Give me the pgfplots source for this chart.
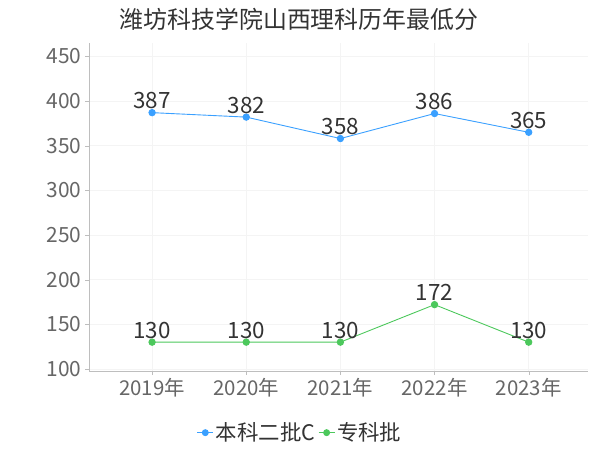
\documentclass[border=0pt]{standalone}
\usepackage{pgfplots}
\pgfplotsset{compat=1.18}
\usepackage{fontspec}
\setmainfont{Noto Sans CJK SC}
\definecolor{cblue}{RGB}{58,160,255}
\definecolor{cgreen}{RGB}{76,200,92}
\definecolor{tickgray}{RGB}{102,102,102}
\definecolor{axgray}{RGB}{190,190,190}
\definecolor{gridgray}{RGB}{244,244,244}
\definecolor{txt}{RGB}{51,51,51}
\begin{document}
\begin{tikzpicture}[x=1bp,y=1bp]
\path[use as bounding box] (0,0) rectangle (600,450);
\node[font=\fontsize{24}{28}\selectfont, text=txt] at (299,431) {潍坊科技学院山西理科历年最低分};
\begin{axis}[
  at={(89bp,79bp)}, anchor=south west,
  scale only axis, width=499bp, height=328bp,
  xmin=-0.67, xmax=4.63, ymin=97.7, ymax=465,
  xtick={0,1,2,3,4},
  xticklabels={2019年,2020年,2021年,2022年,2023年},
  ytick={100,150,200,250,300,350,400,450},
  axis x line*=bottom, axis y line*=left,
  axis line style={axgray, -},
  tick style={axgray},
  tick align=outside,
  major tick length=4bp,
  grid=major,
  major grid style={gridgray, line width=0.6pt},
  tick label style={text=tickgray},
  yticklabel style={font=\fontsize{21}{23}\selectfont},
  xticklabel style={font=\fontsize{20.5}{23}\selectfont},
  /pgf/number format/assume math mode=true,
  /pgf/number format/1000 sep={},
  every node near coord/.append style={font=\fontsize{22.5}{24}\selectfont, text=txt, anchor=south, yshift=0bp},
  nodes near coords,
  legend columns=2,
  legend style={draw=none, fill=none, at={(0.423,-0.188)}, anchor=center,
    font=\fontsize{21.5}{24}\selectfont, text=txt, inner sep=0pt,
    /tikz/every even column/.append style={column sep=1bp}},
  legend image code/.code={
    \draw[#1, line width=1pt] (0bp,0bp) -- (16bp,0bp);
    \fill[#1] (8bp,0bp) circle (3bp);
  },
  clip=false,
]
\addplot[cblue, line width=0.9pt, mark=*, mark size=3.2bp] coordinates {(0,387) (1,382) (2,358) (3,386) (4,365)};
\addlegendentry{本科二批C}
\addplot[cgreen, line width=0.9pt, mark=*, mark size=3.2bp] coordinates {(0,130) (1,130) (2,130) (3,172) (4,130)};
\addlegendentry{专科批}
\end{axis}
\end{tikzpicture}
\end{document}
